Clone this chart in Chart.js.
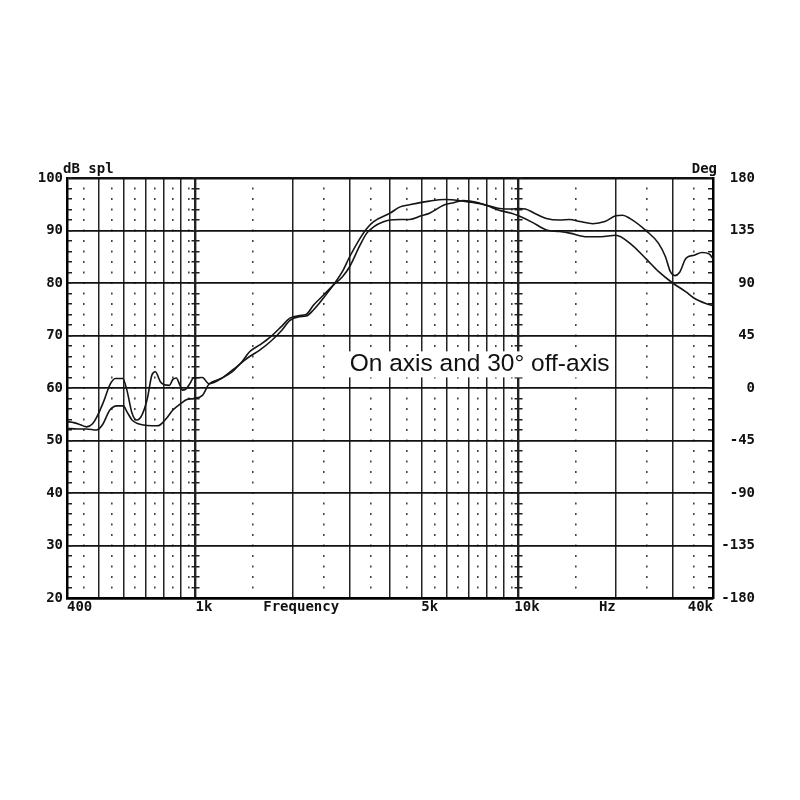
<!DOCTYPE html>
<html>
<head>
<meta charset="utf-8">
<script src="https://cdn.jsdelivr.net/npm/chart.js@4.4.0/dist/chart.umd.min.js"></script>
<style>
  html, body { margin: 0; padding: 0; background: #fff; }
  #wrap { position: relative; width: 800px; height: 800px; }
</style>
</head>
<body>
<div id="wrap"><canvas id="grafico"></canvas></div>
<script>
// trace 1 (peaky one at low end, dip at 30k)
const freqOn = [400, 420, 440, 460, 480, 494, 520, 543, 565, 595, 613, 636, 658, 683, 708, 733, 751, 778, 800, 830,
  850, 872, 895, 910, 930, 960, 985, 1050, 1100, 1200, 1300, 1380, 1470, 1580, 1710, 1850, 1960, 2100, 2200, 2320,
  2500, 2670, 2850, 3000, 3230, 3390, 3560, 3800, 4000, 4300, 4600, 5000, 5300, 5900, 6300, 6750, 7600, 8000, 8750, 9500,
  10000, 10500, 11200, 12200, 13400, 14400, 15500, 17000, 18500, 20000, 21000, 22100, 25000, 27100, 28500, 29500, 30500, 31500, 33000, 35000,
  37000, 39000, 40000];
const splOn = [53.6, 53.4, 53.0, 52.6, 53.2, 54.4, 57.5, 60.6, 61.8, 61.8, 59.6, 55.2, 53.9, 54.9, 57.8, 62.5, 63.1, 61.2, 60.6, 60.5,
  61.6, 61.9, 60.5, 59.6, 59.7, 60.8, 61.9, 62.0, 60.8, 61.8, 63.4, 64.7, 66.9, 68.2, 69.8, 71.8, 73.3, 73.8, 74.0, 75.8,
  77.8, 79.6, 81.2, 83.1, 87.2, 89.5, 90.7, 91.6, 92.0, 92.1, 92.1, 92.8, 93.3, 94.9, 95.3, 95.7, 95.2, 94.8, 94.2, 94.1,
  94.2, 94.1, 93.3, 92.3, 92.0, 92.1, 91.7, 91.3, 91.7, 92.8, 92.9, 92.3, 89.8, 87.6, 85.0, 82.2, 81.4, 82.0, 84.7, 85.3,
  85.8, 85.5, 84.6];

// trace 2 (30 deg off-axis, smoother)
const freqOff = [400, 430, 460, 494, 515, 543, 571, 598, 613, 636, 658, 683, 733, 760, 778, 812, 851, 903, 940, 985,
  1050, 1100, 1200, 1300, 1380, 1470, 1580, 1710, 1850, 1960, 2100, 2200, 2320, 2500, 2670, 2850, 3000, 3230, 3390, 3560,
  4000, 4300, 4600, 5300, 5900, 6750, 7600, 8000, 8750, 9500, 10000, 11000, 12200, 13400, 14400, 16300, 18000, 20000, 22100, 25000,
  27100, 30000, 33000, 35000, 38000, 40000];
const splOff = [52.3, 52.2, 52.2, 52.0, 53.0, 55.8, 56.6, 56.6, 55.5, 53.9, 53.3, 53.0, 52.8, 52.8, 53.0, 54.2, 55.8, 57.1, 57.8, 58.0,
  58.6, 60.7, 61.8, 63.1, 64.7, 66.0, 67.2, 68.9, 71.0, 72.9, 73.6, 73.7, 74.9, 77.3, 79.6, 82.2, 85.0, 88.5, 90.4, 91.7,
  93.3, 94.5, 94.9, 95.6, 95.9, 95.6, 95.1, 94.7, 93.8, 93.3, 92.8, 91.6, 90.1, 89.8, 89.5, 88.8, 88.8, 89.1, 87.6, 84.4,
  82.2, 80.0, 78.3, 77.1, 76.1, 75.7];

// grid + labels of the frequency axis
const majorFreqs = [400, 500, 600, 700, 800, 900, 1000, 2000, 3000, 4000, 5000, 6000, 7000, 8000, 9000, 10000, 20000, 30000, 40000];
const minorFreqs = [450, 550, 650, 750, 850, 950, 1500, 2500, 3500, 4500, 5500, 6500, 7500, 8500, 9500, 15000, 25000, 35000];
const labelFreqs = [400, 1000, 2000, 5000, 10000, 20000, 40000];
const labelTexts = ['400', '  1k', '  Frequency', '  5k', '  10k', 'Hz  ', '40k'];

const fuente = { family: '"DejaVu Sans Mono", monospace', size: 14, weight: 'bold' };

// plot box is 67..713 px wide, used for the little cross marks on 1k / 10k and the edges
const plotW = 646;
const xPix = f => plotW * Math.log10(f / 400) / 2;
const marcas = [5, xPix(1000) - 4 - 5, 8, xPix(10000) - xPix(1000) - 8, 8, plotW - 5 - xPix(10000) - 4, 5, 300];
const puntos = [2, 8.5];

const textos = {
  id: 'textos',
  afterDraw(chart) {
    const { ctx, chartArea: a, scales } = chart;
    ctx.save();
    ctx.fillStyle = '#111';
    ctx.font = 'bold 14px "DejaVu Sans Mono"';
    ctx.textBaseline = 'bottom';
    ctx.textAlign = 'left';
    ctx.fillText('dB spl', a.left - 4, a.top - 2);
    ctx.textAlign = 'right';
    ctx.fillText('Deg', a.right + 4, a.top - 2);

    const nota = 'On axis and 30° off-axis';
    ctx.font = '24.5px "Liberation Sans", Arial';
    const x0 = scales.x.getPixelForValue(3000);
    const y0 = scales.y.getPixelForValue(64.5);
    const w = ctx.measureText(nota).width;
    ctx.fillStyle = '#fff';
    ctx.fillRect(x0 - 4, y0 - 13, w + 8, 26);
    ctx.fillStyle = '#111';
    ctx.textAlign = 'left';
    ctx.textBaseline = 'middle';
    ctx.fillText(nota, x0, y0);
    ctx.restore();
  }
};

const ctx = document.getElementById('grafico').getContext('2d');
const grafico = new Chart(ctx, {
  type: 'line',
  data: {
    datasets: [
      {
        label: 'On axis',
        data: freqOn.map((f, i) => ({ x: f, y: splOn[i] })),
        borderColor: '#151515',
        borderWidth: 1.6,
        pointRadius: 0,
        cubicInterpolationMode: 'monotone'
      },
      {
        label: '30° off-axis',
        data: freqOff.map((f, i) => ({ x: f, y: splOff[i] })),
        borderColor: '#151515',
        borderWidth: 1.6,
        pointRadius: 0,
        cubicInterpolationMode: 'monotone'
      }
    ]
  },
  options: {
    responsive: true,
    maintainAspectRatio: false,
    animation: false,
    layout: { padding: { top: 178, right: 45, bottom: 0, left: 0 } },
    plugins: { legend: { display: false }, tooltip: { enabled: false } },
    scales: {
      x: {
        type: 'logarithmic',
        min: 400,
        max: 40000,
        afterBuildTicks: s => { s.ticks = majorFreqs.map(v => ({ value: v })); },
        afterFit: s => { s.height = 202; },
        ticks: {
          autoSkip: false,
          maxRotation: 0,
          align: 'inner',
          padding: 1,
          color: '#111',
          font: fuente,
          callback: v => {
            const i = labelFreqs.indexOf(v);
            return i >= 0 ? labelTexts[i] : '';
          }
        },
        grid: {
          drawTicks: false,
          color: '#222',
          lineWidth: c => (c.tick && (c.tick.value === 1000 || c.tick.value === 10000)) ? 2.4 : 1.5
        },
        border: { display: true, color: '#000', width: 2.5 }
      },
      xd: {
        type: 'logarithmic',
        position: 'bottom',
        min: 400,
        max: 40000,
        afterBuildTicks: s => { s.ticks = minorFreqs.map(v => ({ value: v })); },
        afterFit: s => { s.height = 0; },
        ticks: { display: false },
        grid: { drawTicks: false, color: '#444', lineWidth: 1.6 },
        border: { display: false, dash: () => puntos, dashOffset: 1 }
      },
      y: {
        type: 'linear',
        position: 'left',
        min: 20,
        max: 100,
        afterFit: s => { s.width = 67; },
        ticks: { stepSize: 10, padding: 4, color: '#111', font: fuente },
        grid: {
          drawTicks: false,
          color: '#111',
          lineWidth: c => (c.tick && (c.tick.value === 100 || c.tick.value === 20)) ? 2.5 : 1.8
        },
        border: { display: true, color: '#000', width: 2.5 }
      },
      ym: {
        type: 'linear',
        position: 'left',
        min: 20,
        max: 100,
        afterFit: s => { s.width = 0; },
        ticks: { display: false, stepSize: 2 },
        grid: { drawTicks: false, color: '#222', lineWidth: 1.4 },
        border: { display: false, dash: () => marcas }
      },
      y2: {
        type: 'linear',
        position: 'right',
        min: -180,
        max: 180,
        afterFit: s => { s.width = 42; },
        ticks: { stepSize: 45, padding: 4, crossAlign: 'far', color: '#111', font: fuente },
        grid: { drawOnChartArea: false, drawTicks: false },
        border: { display: true, color: '#000', width: 2.5 }
      }
    }
  },
  plugins: [textos]
});
</script>
</body>
</html>
